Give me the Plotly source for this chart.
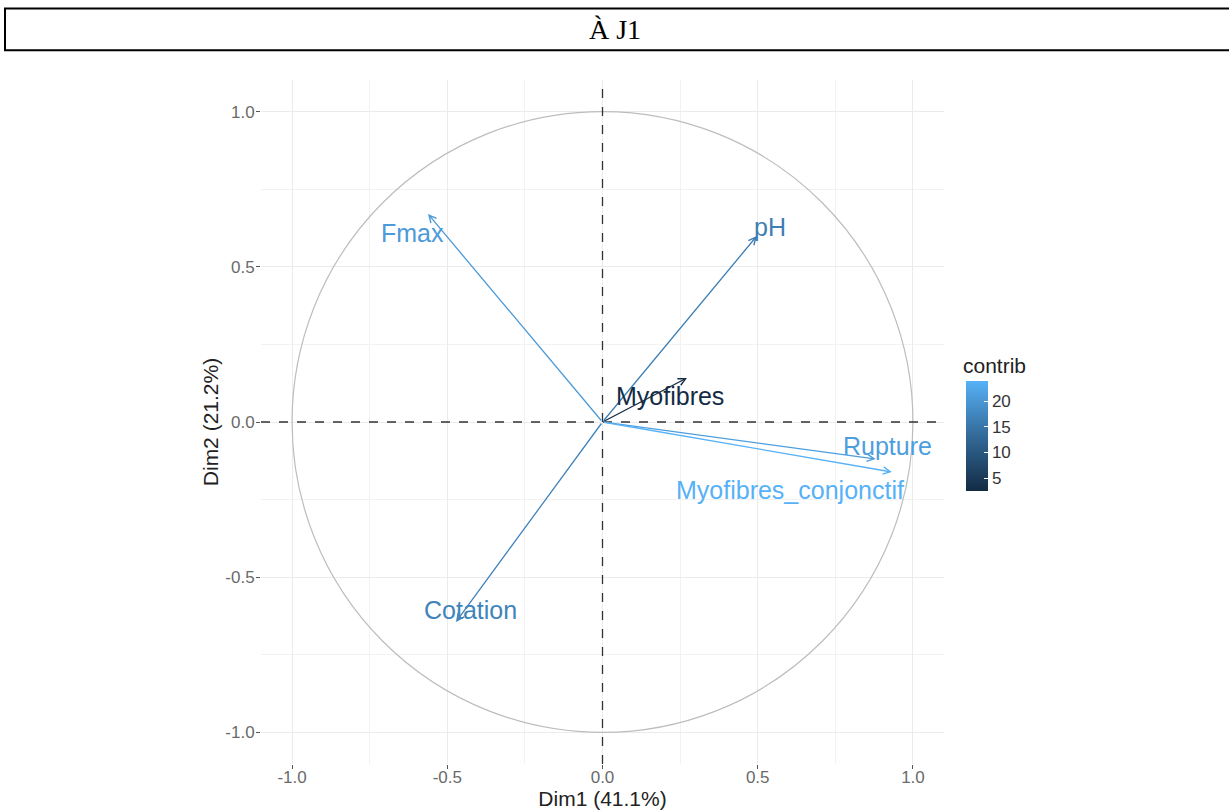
import plotly.graph_objects as go
from plotly.colors import sample_colorscale

# ---- data ----
variables = ["Fmax", "pH", "Myofibres", "Rupture", "Myofibres_conjonctif", "Cotation"]
dim1 = [-0.562, 0.497, 0.272, 0.880, 0.932, -0.472]
dim2 = [0.670, 0.599, 0.142, -0.119, -0.161, -0.644]
contrib = [20.5, 16.2, 2.5, 21.1, 23.9, 17.1]
label_x = [-0.613, 0.539, 0.217, 0.918, 0.604, -0.424]
label_y = [0.609, 0.628, 0.084, -0.077, -0.219, -0.605]
tick_vals = [-1.0, -0.5, 0.0, 0.5, 1.0]
tick_text = ["-1.0", "-0.5", "0.0", "0.5", "1.0"]
cbar_ticks = [5, 10, 15, 20]
title_text = "À J1"
xlab = "Dim1 (41.1%)"
ylab = "Dim2 (21.2%)"
legend_title = "contrib"

colorscale = [[0, "#132B43"], [0.5, "#336A98"], [1, "#56B1F7"]]
cmin, cmax = min(contrib), max(contrib)
cols = sample_colorscale(colorscale, [(c - cmin) / (cmax - cmin) for c in contrib])

fig = go.Figure()

# invisible trace carrying the colour bar
fig.add_trace(go.Scatter(
    x=dim1, y=dim2, mode="markers", hoverinfo="skip", showlegend=False,
    marker=dict(size=1, opacity=0, color=contrib, colorscale=colorscale,
                cmin=cmin, cmax=cmax, showscale=True,
                colorbar=dict(thickness=22, thicknessmode="pixels",
                              len=110, lenmode="pixels",
                              x=1.032, xanchor="left", xpad=0, ypad=0,
                              y=0.4795, yanchor="middle",
                              tickvals=cbar_ticks, ticks="inside", ticklen=4,
                              tickcolor="white", outlinewidth=0,
                              tickfont=dict(size=17, color="#333", family="Liberation Sans")))))

shapes = []
# correlation circle
shapes.append(dict(type="circle", xref="x", yref="y", x0=-1, y0=-1, x1=1, y1=1,
                   line=dict(color="#BDBDBD", width=1.2), layer="above"))
# dashed zero lines
shapes.append(dict(type="line", xref="x", yref="y domain", x0=0, x1=0, y0=0, y1=1,
                   line=dict(color="#333", width=1.3, dash="dash"), layer="above"))
shapes.append(dict(type="line", xref="x domain", yref="y", x0=0, x1=1, y0=0, y1=0,
                   line=dict(color="#333", width=1.3, dash="dash"), layer="above"))
# title box
shapes.append(dict(type="rect", xref="paper", yref="paper", x0=-0.3748, x1=1.43,
                   y0=1.0435, y1=1.1045, line=dict(color="black", width=2)))

annotations = []
for v, x, y, c in zip(variables, dim1, dim2, cols):
    annotations.append(dict(x=x, y=y, ax=0, ay=0, xref="x", yref="y", axref="x", ayref="y",
                            text="", showarrow=True, arrowhead=5, arrowsize=1.1,
                            arrowwidth=1.3, arrowcolor=c, standoff=0))
for v, c, lx, ly in zip(variables, cols, label_x, label_y):
    annotations.append(dict(x=lx, y=ly, xref="x", yref="y", text=v, showarrow=False,
                            font=dict(size=25, color=c, family="Liberation Sans")))
annotations.append(dict(x=0.518, y=1.074, xref="paper", yref="paper", text=title_text,
                        xanchor="center", yanchor="middle", showarrow=False,
                        font=dict(size=28, color="black", family="Liberation Serif")))
annotations.append(dict(x=1.025, y=0.583, xref="paper", yref="paper", text=legend_title,
                        xanchor="left", yanchor="middle", showarrow=False,
                        font=dict(size=21, color="#222", family="Liberation Sans")))

axis_common = dict(range=[-1.1, 1.1], tickvals=tick_vals, ticktext=tick_text,
                   showgrid=True, gridcolor="#EBEBEB", gridwidth=1.1,
                   zeroline=False, showline=False, ticks="outside", ticklen=4,
                   tickcolor="#555", tickwidth=1, automargin=False,
                   tickfont=dict(size=17, color="#6a6a6a", family="Liberation Sans"),
                   minor=dict(tickvals=[-0.75, -0.25, 0.25, 0.75], showgrid=True,
                              gridcolor="#F2F2F2", gridwidth=0.8, ticks=""))

fig.update_layout(
    width=1229, height=811,
    margin=dict(l=261, r=285, t=80, b=47),
    plot_bgcolor="white", paper_bgcolor="white",
    xaxis=dict(**axis_common, ticklabelstandoff=-6,
               title=dict(text=xlab, standoff=0, font=dict(size=21, color="#222", family="Liberation Sans"))),
    yaxis=dict(**axis_common, scaleanchor="x", scaleratio=1, ticklabelstandoff=-2,
               title=dict(text=ylab, standoff=0, font=dict(size=21, color="#222", family="Liberation Sans"))),
    shapes=shapes, annotations=annotations, showlegend=False,
)

fig.write_html("out.html", config={"displayModeBar": False},
               post_script="document.body.style.margin='0';document.body.style.overflow='hidden';")
